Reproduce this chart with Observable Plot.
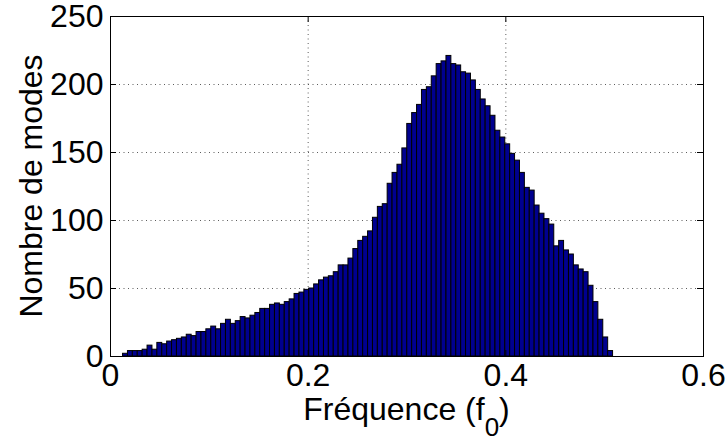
<!DOCTYPE html>
<html><head><meta charset="utf-8">
<script src="https://cdn.jsdelivr.net/npm/d3@7"></script>
<script src="https://cdn.jsdelivr.net/npm/@observablehq/plot@0.6"></script>
<style>body{margin:0;background:#fff} svg{display:block}</style>
</head><body><div id="chart"></div>
<script>
// Histogram (MATLAB hist, 100 bins)
const binStart = 0.0127;
const binWidth = 0.004958;
const counts = [
  2, 4, 4, 4, 5, 8, 5, 10, 9, 11,
  12, 13, 14, 16, 15, 18, 18, 20, 22, 20,
  24, 27, 24, 26, 29, 28, 30, 32, 35, 35,
  38, 39, 38, 40, 42, 46, 47, 49, 50, 53,
  56, 58, 59, 62, 67, 67, 72, 79, 85, 88,
  92, 102, 110, 112, 127, 135, 141, 153, 171, 179,
  185, 196, 198, 206, 215, 217, 221, 215, 214, 209,
  208, 203, 196, 189, 184, 177, 166, 161, 156, 149,
  144, 135, 124, 122, 111, 105, 101, 97, 81, 85,
  78, 75, 67, 64, 62, 52, 40, 27, 14, 4
];
const xTicks = [0, 0.2, 0.4, 0.6];
const yTicks = [0, 50, 100, 150, 200, 250];
const xGrid = [0.2, 0.4];
const yGrid = [50, 100, 150, 200];
const xLabel = "Fréquence (f";
const xLabelSub = "0";
const xLabelEnd = ")";
const yLabel = "Nombre de modes";

const bins = counts.map((c, i) => ({x1: binStart + i * binWidth, x2: binStart + (i + 1) * binWidth, count: c}));

const W = 726, H = 441, mL = 110, mR = 23, mT = 16, mB = 85;
const plotW = W - mL - mR, plotH = H - mT - mB;
const font = "'Liberation Sans', Arial, Helvetica, sans-serif";
const fs = 32;

const chart = Plot.plot({
  width: W, height: H,
  marginLeft: mL, marginRight: mR, marginTop: mT, marginBottom: mB,
  style: {fontFamily: font, fontSize: fs + "px", color: "#000", background: "#fff", overflow: "visible"},
  x: {domain: [0, 0.6]},
  y: {domain: [0, 250]},
  marks: [
    Plot.ruleX(xGrid, {stroke: "#333", strokeDasharray: "1,3.5", strokeOpacity: 0.8}),
    Plot.ruleY(yGrid, {stroke: "#333", strokeDasharray: "1,3.5", strokeOpacity: 0.8}),
    Plot.rectY(bins, {x1: "x1", x2: "x2", y: "count", fill: "#00008F", stroke: "#000", strokeWidth: 1}),
    Plot.tickX(xTicks, {x: d => d, insetTop: plotH - 6, stroke: "#000"}),
    Plot.tickX(xTicks, {x: d => d, insetBottom: plotH - 6, stroke: "#000"}),
    Plot.tickY(yTicks, {y: d => d, insetRight: plotW - 6, stroke: "#000"}),
    Plot.tickY(yTicks, {y: d => d, insetLeft: plotW - 6, stroke: "#000"}),
    Plot.frame({stroke: "#000"}),
    Plot.axisX(xTicks, {tickSize: 0, tickPadding: 7, tickFormat: d => String(d), label: null, fontSize: fs}),
    Plot.axisY(yTicks, {tickSize: 0, tickPadding: 7, tickFormat: d => String(d), label: null, fontSize: fs})
  ]
});

const svg = d3.select(chart);
const xl = svg.append("text")
  .attr("x", mL + plotW / 2).attr("y", 420)
  .attr("text-anchor", "middle")
  .attr("font-family", font).attr("font-size", fs).attr("fill", "#000");
xl.append("tspan").text(xLabel);
xl.append("tspan").attr("dy", 16).attr("font-size", 26).text(xLabelSub);
xl.append("tspan").attr("dy", -16).text(xLabelEnd);

svg.append("text")
  .attr("transform", `translate(42,${mT + plotH / 2}) rotate(-90)`)
  .attr("text-anchor", "middle")
  .attr("font-family", font).attr("font-size", fs).attr("fill", "#000")
  .text(yLabel);

document.getElementById("chart").appendChild(chart);
</script>
</body></html>
